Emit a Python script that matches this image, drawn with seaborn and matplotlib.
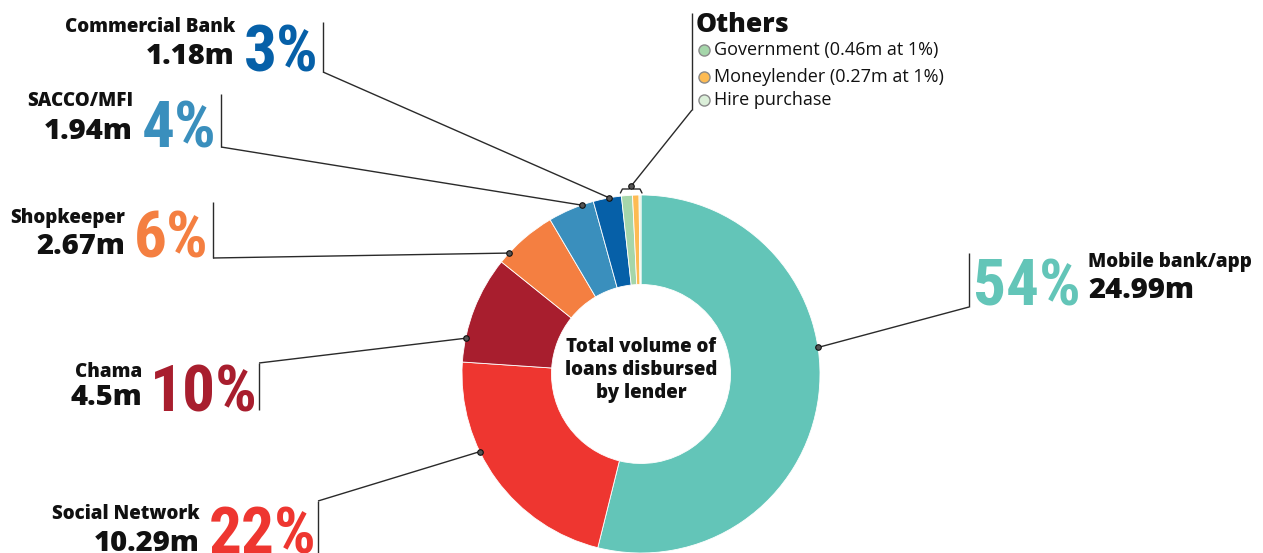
import numpy as np
import matplotlib
matplotlib.use("Agg")
import matplotlib.pyplot as plt
import seaborn as sns
from matplotlib import font_manager

# Loan volumes (millions) by lender, clockwise from 12 o'clock
lenders = ["Mobile bank/app", "Social Network", "Chama", "Shopkeeper",
           "SACCO/MFI", "Commercial Bank", "Government", "Moneylender",
           "Hire purchase"]
volumes_m = [24.99, 10.29, 4.5, 2.67, 1.94, 1.18, 0.46, 0.27, 0.08]
shares_pct = [54, 22, 10, 6, 4, 3, 1, 1, None]
colors = ["#63c5b8", "#ee3630", "#a81e2e", "#f47f41", "#3a8fbd",
          "#0660a8", "#a5d6aa", "#fdbb53", "#dbefd9"]
others = ["Government", "Moneylender", "Hire purchase"]

sns.set_theme(style="white")
installed = {f.name for f in font_manager.fontManager.ttflist}
plt.rcParams["font.family"] = ["Open Sans", "DejaVu Sans"]
narrow = next((f for f in ["Liberation Sans Narrow", "DejaVu Sans Condensed",
                           "Roboto Condensed", "Liberation Sans"]
               if f in installed), "DejaVu Sans")

W, H = 1263, 553
fig = plt.figure(figsize=(W / 100, H / 100), dpi=100)
ax = fig.add_axes([0, 0, 1, 1])


def px(x, y):
    """Top-left pixel position -> data coordinates (y up)."""
    return x, H - y


cx, cy = px(641, 374)
R = 179
wedges, _ = ax.pie(volumes_m, colors=colors, startangle=90, counterclock=False,
                   center=(cx, cy), radius=R,
                   wedgeprops=dict(width=R * 0.5, edgecolor="white", linewidth=0.6))
ax.set_xlim(0, W)
ax.set_ylim(0, H)
ax.set_aspect("equal")
ax.axis("off")


def rim_point(w, at=0.5):
    """Point on the outer rim, `at` of the way through the wedge's sweep."""
    ang = np.deg2rad(w.theta2 - at * (w.theta2 - w.theta1))
    return cx + R * np.cos(ang), cy + R * np.sin(ang)


# Centre caption
ax.text(cx, cy + 4, "Total volume of\nloans disbursed\nby lender", ha="center",
        va="center", fontsize=13.5, fontweight="heavy", color="#111111",
        linespacing=1.2)

# Callout layout for the named lenders
layout = {
    "Mobile bank/app": dict(pct=(1027, 305), side="left", name_x=1088, name_y=267,
                            val_y=298, vx=969, vy=(253, 307), join=307, at=0.42),
    "Social Network": dict(pct=(263, 553), side="right", name_x=200, name_y=519,
                           val_y=551, vx=318, vy=(501, 553), join=501, at=0.63),
    "Chama": dict(pct=(204, 412), side="right", name_x=142, name_y=377,
                  val_y=405, vx=259, vy=(363, 410), join=363, at=0.22),
    "Shopkeeper": dict(pct=(171, 257), side="right", name_x=125, name_y=223,
                       val_y=254, vx=213, vy=(202, 258), join=258, at=0.18),
    "SACCO/MFI": dict(pct=(179, 147), side="right", name_x=133, name_y=106,
                      val_y=139, vx=221, vy=(94, 147), join=147, at=0.74),
    "Commercial Bank": dict(pct=(281, 72), side="right", name_x=235, name_y=32,
                            val_y=64, vx=323, vy=(22, 72), join=72, at=0.57),
}

line_kw = dict(color="#2a2a2a", lw=1.0, solid_capstyle="butt")
dot_kw = dict(marker="o", ms=4, mfc="#555555", mec="#111111", mew=0.8, zorder=5)
for name, vol, pct, col, w in zip(lenders, volumes_m, shares_pct, colors, wedges):
    if name not in layout:
        continue
    L = layout[name]
    ax.text(*px(*L["pct"]), f"{pct}%", ha="center", va="baseline",
            fontsize=47, fontweight="bold", color=col, family=narrow)
    ax.text(*px(L["name_x"], L["name_y"]), name, ha=L["side"], va="baseline",
            fontsize=13.5, fontweight="heavy", color="#111111")
    ax.text(*px(L["name_x"], L["val_y"]), f"{vol:g}m", ha=L["side"], va="baseline",
            fontsize=21, fontweight="heavy", color="#111111")
    x0, ytop = px(L["vx"], L["vy"][0])
    _, ybot = px(L["vx"], L["vy"][1])
    ax.plot([x0, x0], [ytop, ybot], **line_kw)
    dx, dy = rim_point(w, L["at"])
    ax.plot([x0, dx], [px(0, L["join"])[1], dy], **line_kw)
    ax.plot(dx, dy, **dot_kw)

# Brace over the three smallest lenders
small = [w for n, w in zip(lenders, wedges) if n in others]
a_left = np.deg2rad(small[0].theta2)
a_right = np.deg2rad(small[-1].theta1)
bx0 = cx + R * np.cos(a_left)
bx1 = cx + R * np.cos(a_right)
bx0, bx1 = min(bx0, bx1) - 1, max(bx0, bx1) + 1
bxm = (bx0 + bx1) / 2
_, yb = px(0, 193)
_, yf = px(0, 189)
_, yt = px(0, 186)
ax.plot([bx0, bx0 + 2, bxm - 2, bxm, bxm + 2, bx1 - 2, bx1],
        [yb, yf, yf, yt, yf, yf, yb], color="#2a2a2a", lw=1.0)
ax.plot(bxm, yt, **dot_kw)
ox, oy0 = px(692, 13)
_, oy1 = px(692, 110)
ax.plot([ox, ox], [oy0, oy1], **line_kw)
ax.plot([ox, bxm], [oy1, yt], **line_kw)

# "Others" key
ax.text(*px(696, 32), "Others", ha="left", va="baseline", fontsize=19,
        fontweight="heavy", color="#111111")
key_labels = []
for n, v, p in zip(lenders, volumes_m, shares_pct):
    if n in others:
        key_labels.append(f"{n} ({v:g}m at {p}%)" if p is not None else n)
key_y = [50, 77, 100]
key_cols = [c for n, c in zip(lenders, colors) if n in others]
for lab, yy, c in zip(key_labels, key_y, key_cols):
    ax.plot(*px(704, yy), "o", ms=8, mfc=c, mec="#8a8a8a", mew=1.0)
    ax.text(*px(714, yy), lab, ha="left", va="center", fontsize=13,
            color="#111111")

fig.savefig("out.png", dpi=100)
